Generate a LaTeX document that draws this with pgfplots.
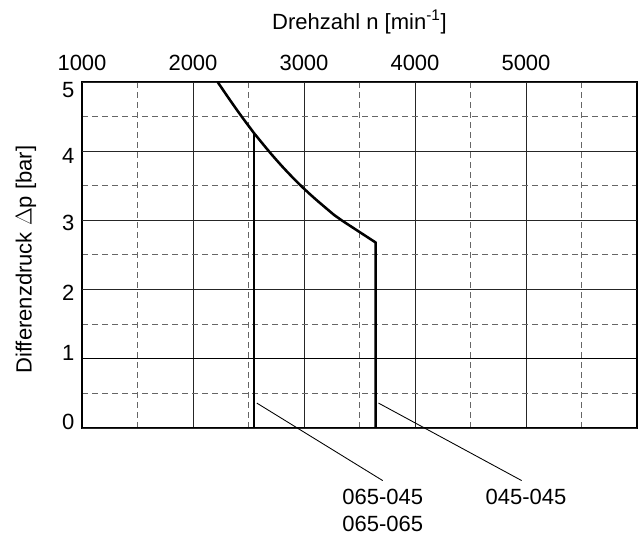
\documentclass[border=0pt]{standalone}
\usepackage{pgfplots}
\pgfplotsset{compat=1.18}
\usepackage{fontspec}
\setmainfont{Liberation Sans}
\begin{document}
\fontsize{16.5}{20}\selectfont
\begin{tikzpicture}
\useasboundingbox (0,0) rectangle (480.75pt,400.5pt);
\begin{axis}[
  at={(61.5pt,79.5pt)}, anchor=south west,
  scale only axis, width=416.25pt, height=259.5pt,
  xmin=1000, xmax=6000, ymin=0, ymax=5,
  xtick={1000,2000,3000,4000,5000,6000},
  xticklabels={1000,2000,3000,4000,5000,},
  minor xtick={1500,2500,3500,4500,5500},
  ytick={0.09,1.09,1.96,2.96,3.93,4.88},
  yticklabels={0,1,2,3,4,5},
  minor ytick={0.5,1.5,2.5,3.5,4.5},
  xticklabel pos=upper,
  major tick length=0pt, minor tick length=0pt,
  xmajorgrids=true, ymajorgrids=false,
  xminorgrids=true, yminorgrids=true,
  major grid style={line width=0.65pt, black!85},
  minor grid style={line width=0.75pt, black!60, dash pattern=on 4.5pt off 3pt},
  extra y ticks={0,1,2,3,4,5}, extra y tick labels={},
  extra y tick style={ymajorgrids=true, major tick length=0pt},
  axis line style={line width=1pt, black},
  /pgf/number format/assume math mode=true,
  /pgf/number format/1000 sep={},
  tick label style={font=\fontsize{16.5}{20}\selectfont},
  xticklabel style={yshift=2.5pt},
  xlabel={Drehzahl n [min\textsuperscript{-1}]},
  xlabel style={at={(axis description cs:0.5,1)}, anchor=center, yshift=45pt, font=\fontsize{16.5}{20}\selectfont},
  ylabel={Differenzdruck $\Delta$p [bar]},
  ylabel style={at={(axis description cs:0,0.5)}, anchor=center, xshift=-3.5pt, yshift=42pt, font=\fontsize{16.5}{20}\selectfont},
  clip=false,
]
% heavier grid line at 1 bar
\addplot[line width=0.9pt, black, forget plot] coordinates {(1000,1) (6000,1)};
% 045-045: limit curve then vertical
\addplot[line width=1.9pt, black, line join=round] coordinates {
 (2222,5.0) (2300,4.816) (2350,4.70) (2400,4.586) (2450,4.475) (2500,4.368)
 (2550,4.26) (2600,4.162) (2650,4.064) (2700,3.968) (2750,3.876) (2800,3.786)
 (2850,3.70) (2900,3.616) (2950,3.536) (3000,3.458) (3050,3.384) (3100,3.312)
 (3150,3.243) (3200,3.175) (3270,3.08) (3340,3.0) (3646,2.68) (3646,0)
};
% 065-045 / 065-065: vertical
\addplot[line width=1.9pt, black] coordinates {(2550,4.26) (2550,0)};
% leader lines
\addplot[line width=0.65pt, black] coordinates {(2575,0.36) (3709,-0.76)};
\addplot[line width=0.65pt, black] coordinates {(3671,0.36) (4961,-0.76)};
\node[align=center, inner sep=0pt, anchor=north, font=\fontsize{16.5}{20}\selectfont] at (axis cs:3710,-0.88) {065-045\\065-065};
\node[inner sep=0pt, anchor=north, font=\fontsize{16.5}{20}\selectfont] at (axis cs:5000,-0.88) {045-045};
\end{axis}
\end{tikzpicture}
\end{document}
